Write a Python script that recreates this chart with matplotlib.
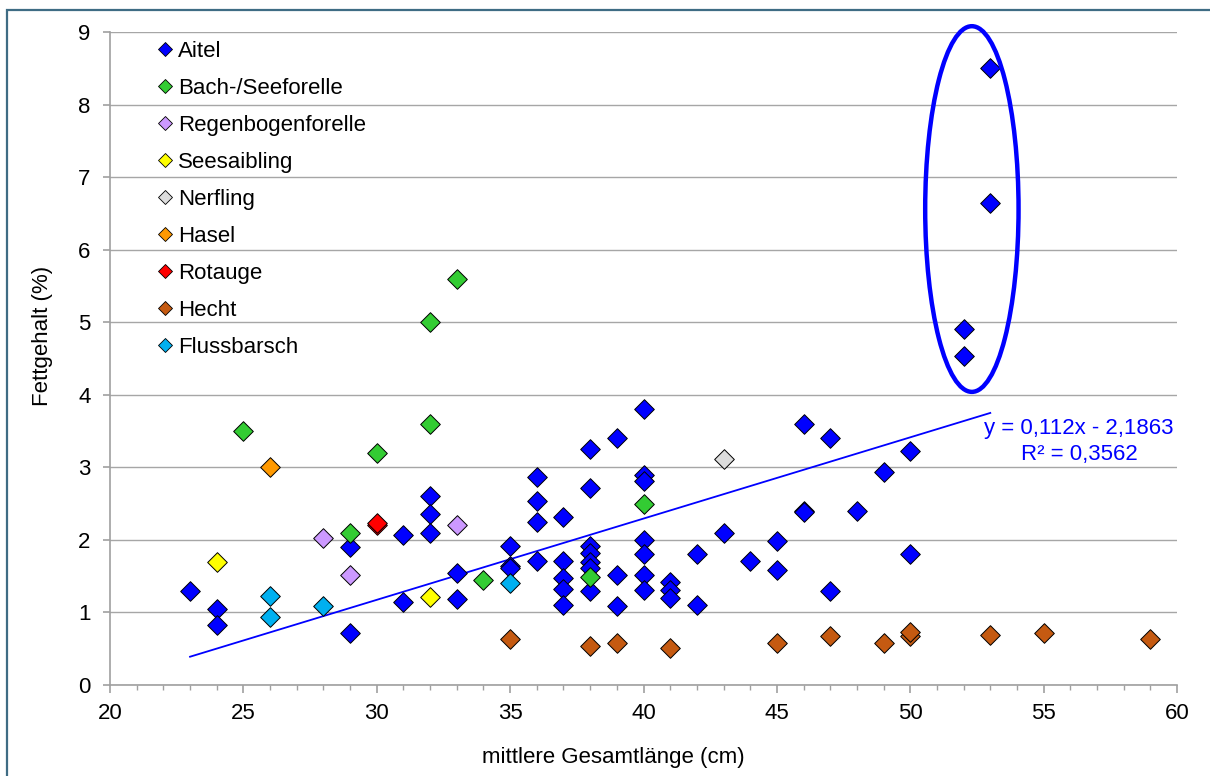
import matplotlib
matplotlib.use("Agg")
import matplotlib.pyplot as plt
from matplotlib.patches import Ellipse, Rectangle
from matplotlib.lines import Line2D
from matplotlib.ticker import MultipleLocator
import numpy as np

plt.rcParams['font.family'] = ['Liberation Sans', 'DejaVu Sans']

# ---- data ----
species = ["Aitel", "Bach-/Seeforelle", "Regenbogenforelle", "Seesaibling",
           "Nerfling", "Hasel", "Rotauge", "Hecht", "Flussbarsch"]
colors = ["#0000FF", "#33CC33", "#CC99FF", "#FFFF00", "#DDDDDD",
          "#FF9900", "#FF0000", "#C55A11", "#00B0F0"]

aitel_x = [23, 24, 24, 29, 29, 31, 31, 32, 32, 32, 33, 33, 35, 35, 35,
           36, 36, 36, 36, 37, 37, 37, 37, 37, 38, 38, 38, 38, 38, 38, 38,
           39, 39, 39, 40, 40, 40, 40, 40, 40, 40, 41, 41, 41, 42, 42, 43,
           44, 45, 45, 46, 46, 46, 47, 47, 48, 49, 50, 50, 52, 52, 53, 53]
aitel_y = [1.29, 1.05, 0.83, 1.90, 0.72, 2.07, 1.15, 2.60, 2.35, 2.09, 1.55, 1.18,
           1.91, 1.64, 1.61, 2.86, 2.54, 2.25, 1.71, 2.31, 1.71, 1.48, 1.32, 1.10,
           3.25, 2.71, 1.92, 1.82, 1.70, 1.61, 1.30, 3.40, 1.51, 1.09,
           3.80, 2.89, 2.81, 2.00, 1.81, 1.52, 1.31, 1.42, 1.31, 1.20,
           1.81, 1.10, 2.10, 1.71, 1.98, 1.59, 3.60, 2.40, 2.38, 3.40, 1.30,
           2.40, 2.93, 3.23, 1.81, 4.90, 4.53, 8.50, 6.65]
bach_x = [25, 29, 30, 32, 32, 33, 34, 38, 40]
bach_y = [3.50, 2.10, 3.20, 5.00, 3.60, 5.60, 1.45, 1.49, 2.50]
regen_x = [28, 29, 33]
regen_y = [2.03, 1.52, 2.20]
seesaib_x = [24, 32]
seesaib_y = [1.70, 1.21]
nerf_x = [43]
nerf_y = [3.12]
hasel_x = [26]
hasel_y = [3.01]
rot_x = [30, 30]
rot_y = [2.21, 2.23]
hecht_x = [35, 38, 39, 41, 45, 47, 49, 50, 50, 53, 55, 59]
hecht_y = [0.64, 0.54, 0.58, 0.51, 0.58, 0.67, 0.58, 0.67, 0.73, 0.69, 0.72, 0.63]
fluss_x = [26, 26, 28, 35]
fluss_y = [1.22, 0.94, 1.09, 1.41]

series_x = [aitel_x, bach_x, regen_x, seesaib_x, nerf_x, hasel_x, rot_x, hecht_x, fluss_x]
series_y = [aitel_y, bach_y, regen_y, seesaib_y, nerf_y, hasel_y, rot_y, hecht_y, fluss_y]

trend_slope = 0.112
trend_intercept = -2.1863
trend_x_range = [23, 53]
trend_lines = ["y = 0,112x - 2,1863", "R² = 0,3562"]

ellipse_center = (52.31, 6.56)
ellipse_width = 3.5
ellipse_height = 5.04

x_label = "mittlere Gesamtlänge (cm)"
y_label = "Fettgehalt (%)"

# ---- figure ----
fig = plt.figure(figsize=(12.1, 7.76), dpi=100)
fig.patch.set_facecolor("white")
fig.add_artist(Rectangle((7/1210, -0.1), 1.2, 1 - 10/776 + 0.1,
                         transform=fig.transFigure, fill=False,
                         edgecolor="#3F6C84", linewidth=1.6))

ax = fig.add_axes([110/1210, 91/776, 1067/1210, 653/776])
ax.set_xlim(20, 60)
ax.set_ylim(0, 9)

for sx, sy, c in zip(series_x, series_y, colors):
    ax.scatter(sx, sy, marker="D", s=100, c=c, edgecolors="black",
               linewidths=0.7, zorder=3)

tx = np.array(trend_x_range, dtype=float)
ax.plot(tx, trend_slope * tx + trend_intercept, color="#0000FF", lw=1.3, zorder=2)

ax.text(56.33, 3.54, trend_lines[0], color="#0000FF", fontsize=16,
        ha="center", va="center")
ax.text(56.33, 3.17, trend_lines[1], color="#0000FF", fontsize=16,
        ha="center", va="center")

ax.add_patch(Ellipse(ellipse_center, ellipse_width, ellipse_height,
                     fill=False, edgecolor="#0000FF", linewidth=3.2, zorder=4,
                     clip_on=False))

# axes style
ax.yaxis.set_major_locator(MultipleLocator(1))
ax.xaxis.set_major_locator(MultipleLocator(5))
ax.xaxis.set_minor_locator(MultipleLocator(1))
ax.grid(axis="y", color="#A6A6A6", linewidth=1.0, zorder=0)
ax.set_axisbelow(True)
for s in ["top", "right"]:
    ax.spines[s].set_visible(False)
for s in ["left", "bottom"]:
    ax.spines[s].set_color("#A0A0A0")
    ax.spines[s].set_linewidth(1.2)
ax.tick_params(axis="y", which="major", direction="out", length=5,
               width=1.2, color="#A0A0A0", labelsize=16, labelcolor="black", pad=9)
ax.tick_params(axis="x", which="major", direction="out", length=6,
               width=1.2, color="#A0A0A0", labelsize=16, labelcolor="black", pad=7)
ax.tick_params(axis="x", which="minor", direction="out", length=3.6,
               width=1.0, color="#A0A0A0")
ax.set_xlabel(x_label, fontsize=16)
ax.set_ylabel(y_label, fontsize=16)
ax.xaxis.set_label_coords(0.4714, -0.095)
ax.yaxis.set_label_coords(-0.0534, 0.534)

handles = [Line2D([], [], marker="D", linestyle="none", markersize=7.5,
                  markerfacecolor=c, markeredgecolor="black",
                  markeredgewidth=0.6) for c in colors]
ax.legend(handles, species, loc="upper left", bbox_to_anchor=(0.0303, 1.0),
          frameon=False, fontsize=16, labelspacing=0.72, handletextpad=0.0,
          handlelength=1.2, borderaxespad=0.0)

fig.savefig("out.png", dpi=100)
